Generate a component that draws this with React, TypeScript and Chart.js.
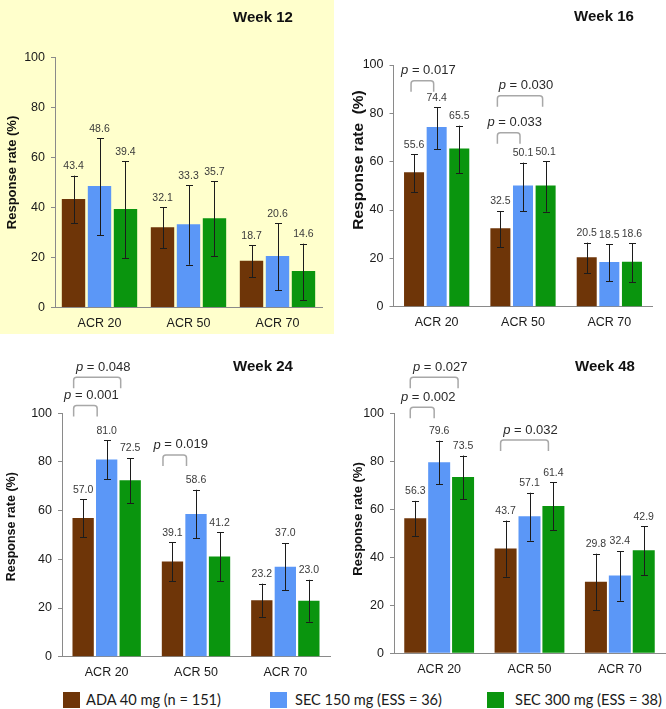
import React, { useEffect, useRef } from 'react';
import { Chart, registerables } from 'chart.js';

Chart.register(...registerables);

// ---------- data ----------
const categories = ['ACR 20', 'ACR 50', 'ACR 70'];
const seriesLabels = ['ADA 40 mg (n = 151)', 'SEC 150 mg (ESS = 36)', 'SEC 300 mg (ESS = 38)'];
const yTicks = [0, 20, 40, 60, 80, 100];
const weekTitles = ['Week 12', 'Week 16', 'Week 24', 'Week 48'];

// Week 12
const w12Ada = [43.4, 32.1, 18.7];
const w12AdaLow = [33.6, 23.7, 12.0];
const w12AdaHigh = [52.7, 40.1, 24.9];
const w12Sec150 = [48.6, 33.3, 20.6];
const w12Sec150Low = [28.9, 17.1, 6.8];
const w12Sec150High = [67.7, 48.9, 33.6];
const w12Sec300 = [39.4, 35.7, 14.6];
const w12Sec300Low = [19.7, 20.5, 2.9];
const w12Sec300High = [58.4, 50.5, 25.5];

// Week 16
const w16Ada = [55.6, 32.5, 20.5];
const w16AdaLow = [47.3, 24.6, 13.8];
const w16AdaHigh = [63.0, 39.6, 26.5];
const w16Sec150 = [74.4, 50.1, 18.5];
const w16Sec150Low = [65.2, 39.6, 10.6];
const w16Sec150High = [82.5, 59.6, 25.8];
const w16Sec300 = [65.5, 50.1, 18.6];
const w16Sec300Low = [55.2, 39.3, 10.2];
const w16Sec300High = [74.9, 60.1, 26.2];

// Week 24
const w24Ada = [57.0, 39.1, 23.2];
const w24AdaLow = [49.0, 31.1, 16.4];
const w24AdaHigh = [64.7, 47.0, 30.0];
const w24Sec150 = [81.0, 58.6, 37.0];
const w24Sec150Low = [73.0, 48.6, 27.3];
const w24Sec150High = [88.9, 68.6, 46.7];
const w24Sec300 = [72.5, 41.2, 23.0];
const w24Sec300Low = [63.0, 31.1, 14.4];
const w24Sec300High = [81.6, 51.1, 31.6];

// Week 48
const w48Ada = [56.3, 43.7, 29.8];
const w48AdaLow = [48.9, 31.9, 17.9];
const w48AdaHigh = [63.5, 55.3, 41.5];
const w48Sec150 = [79.6, 57.1, 32.4];
const w48Sec150Low = [70.4, 46.9, 21.9];
const w48Sec150High = [88.6, 66.9, 42.6];
const w48Sec300 = [73.5, 61.4, 42.9];
const w48Sec300Low = [64.3, 51.3, 32.5];
const w48Sec300High = [82.4, 71.3, 52.9];

// p-value comparisons: category index, from series, to series, bracket level (in % units), p
const w12Brackets: any[] = [];
const w16Brackets = [
  { cat: 0, from: 0, to: 1, level: 93.5, p: '0.017' },
  { cat: 1, from: 0, to: 2, level: 87.3, p: '0.030' },
  { cat: 1, from: 0, to: 1, level: 72.0, p: '0.033' },
];
const w24Brackets = [
  { cat: 0, from: 0, to: 2, level: 114.8, p: '0.048' },
  { cat: 0, from: 0, to: 1, level: 103.2, p: '0.001' },
  { cat: 1, from: 0, to: 1, level: 82.9, p: '0.019' },
];
const w48Brackets = [
  { cat: 0, from: 0, to: 2, level: 115.0, p: '0.027' },
  { cat: 0, from: 0, to: 1, level: 102.5, p: '0.002' },
  { cat: 1, from: 0, to: 2, level: 88.9, p: '0.032' },
];

// ---------- styles ----------
const seriesColors = ['#6E3508', '#5B97F7', '#0A950E'];
const FONT = '"Liberation Sans", Arial, sans-serif';
const AXIS_COLOR = '#8a8a8a';

const panels = [
  {
    key: 'w12', title: weekTitles[0],
    series: [[w12Ada, w12AdaLow, w12AdaHigh], [w12Sec150, w12Sec150Low, w12Sec150High], [w12Sec300, w12Sec300Low, w12Sec300High]],
    brackets: w12Brackets,
    left: 0, top: 0, w: 334, h: 334, bg: '#FFFFCC',
    yW: 55, padR: 12, padT: 57.3, xH: 26.5,
    titleX: 263, titleY: 17.5,
    yTitle: 'Response rate (%)', yTitleX: 12.7, yTitleY: 172.5, yTitleSize: 13,
    catPct: 0.876, barPct: 0.9, dx: 0,
  },
  {
    key: 'w16', title: weekTitles[1],
    series: [[w16Ada, w16AdaLow, w16AdaHigh], [w16Sec150, w16Sec150Low, w16Sec150High], [w16Sec300, w16Sec300Low, w16Sec300High]],
    brackets: w16Brackets,
    left: 334, top: 0, w: 332, h: 334, bg: '#FFFFFF',
    yW: 59.5, padR: 13.5, padT: 65, xH: 27.3,
    titleX: 270, titleY: 17,
    yTitle: 'Response rate  (%)', yTitleX: 24.5, yTitleY: 160, yTitleSize: 15.5,
    catPct: 0.786, barPct: 0.885, dx: -3,
  },
  {
    key: 'w24', title: weekTitles[2],
    series: [[w24Ada, w24AdaLow, w24AdaHigh], [w24Sec150, w24Sec150Low, w24Sec150High], [w24Sec300, w24Sec300Low, w24Sec300High]],
    brackets: w24Brackets,
    left: 0, top: 334, w: 334, h: 350, bg: '#FFFFFF',
    yW: 62, padR: 4, padT: 79.3, xH: 27.3,
    titleX: 263, titleY: 33,
    yTitle: 'Response rate (%)', yTitleX: 12, yTitleY: 192.7, yTitleSize: 12.5,
    catPct: 0.79, barPct: 0.906, dx: -9.5,
  },
  {
    key: 'w48', title: weekTitles[3],
    series: [[w48Ada, w48AdaLow, w48AdaHigh], [w48Sec150, w48Sec150Low, w48Sec150High], [w48Sec300, w48Sec300Low, w48Sec300High]],
    brackets: w48Brackets,
    left: 334, top: 334, w: 332, h: 350, bg: '#FFFFFF',
    yW: 60, padR: 1, padT: 79.3, xH: 30.7,
    titleX: 271, titleY: 33,
    yTitle: 'Response rate (%)', yTitleX: 24, yTitleY: 185, yTitleSize: 13,
    catPct: 0.794, barPct: 0.92, dx: -5,
  },
];

const legendBoxX = [63, 270, 487];
const legendTextX = [86, 295, 515];

function makeOverlay(p: any) {
  return {
    id: 'overlay_' + p.key,
    afterDatasetsDraw(chart: any) {
      const ctx = chart.ctx as CanvasRenderingContext2D;
      const ys = chart.scales.y;
      ctx.save();
      // error bars + value labels
      p.series.forEach((s: number[][], i: number) => {
        const meta = chart.getDatasetMeta(i);
        s[0].forEach((v: number, j: number) => {
          const x = meta.data[j].x;
          const yl = ys.getPixelForValue(s[1][j]);
          const yh = ys.getPixelForValue(s[2][j]);
          const xl = Math.round(x) + 0.5;
          ctx.strokeStyle = '#1c1c1c';
          ctx.lineWidth = 1;
          ctx.beginPath();
          ctx.moveTo(xl, yl);
          ctx.lineTo(xl, yh);
          ctx.moveTo(xl - 3.5, Math.round(yh) + 0.5);
          ctx.lineTo(xl + 3.5, Math.round(yh) + 0.5);
          ctx.moveTo(xl - 3.5, Math.round(yl) + 0.5);
          ctx.lineTo(xl + 3.5, Math.round(yl) + 0.5);
          ctx.stroke();
          ctx.fillStyle = '#3a3a3a';
          ctx.font = '10.5px ' + FONT;
          ctx.textAlign = 'center';
          ctx.textBaseline = 'middle';
          ctx.fillText(v.toFixed(1), x, yh - 9.5);
        });
      });
      // p-value brackets
      p.brackets.forEach((b: any) => {
        const x1 = chart.getDatasetMeta(b.from).data[b.cat].x + p.dx;
        const x2 = chart.getDatasetMeta(b.to).data[b.cat].x + p.dx;
        const y = ys.getPixelForValue(b.level);
        const leg = 11;
        ctx.strokeStyle = '#a8a8a8';
        ctx.lineWidth = 1.5;
        ctx.beginPath();
        ctx.moveTo(x1, y + leg);
        ctx.arcTo(x1, y, x2, y, 3);
        ctx.arcTo(x2, y, x2, y + leg, 3);
        ctx.lineTo(x2, y + leg);
        ctx.stroke();
        const italic = 'italic 13px ' + FONT;
        const normal = '13px ' + FONT;
        const rest = ' = ' + b.p;
        ctx.font = italic;
        const wp = ctx.measureText('p').width;
        ctx.font = normal;
        const wr = ctx.measureText(rest).width;
        const cx = (x1 + x2) / 2 + 6;
        const lx = cx - (wp + wr) / 2;
        const ty = y - 10;
        ctx.fillStyle = '#2a2a2a';
        ctx.textAlign = 'left';
        ctx.textBaseline = 'middle';
        ctx.font = italic;
        ctx.fillText('p', lx, ty);
        ctx.font = normal;
        ctx.fillText(rest, lx + wp, ty);
      });
      // panel title
      ctx.fillStyle = '#111111';
      ctx.font = 'bold 15px ' + FONT;
      ctx.textAlign = 'center';
      ctx.textBaseline = 'middle';
      ctx.fillText(p.title, p.titleX, p.titleY);
      // y-axis title
      ctx.save();
      ctx.translate(p.yTitleX, p.yTitleY);
      ctx.rotate(-Math.PI / 2);
      ctx.font = 'bold ' + p.yTitleSize + 'px ' + FONT;
      ctx.fillText(p.yTitle, 0, 0);
      ctx.restore();
      ctx.restore();
    },
  };
}

function Panel({ p }: { p: any }) {
  const ref = useRef<HTMLCanvasElement>(null);
  useEffect(() => {
    const canvas = ref.current;
    if (!canvas) return;
    const chart = new Chart(canvas, {
      type: 'bar',
      data: {
        labels: categories,
        datasets: p.series.map((s: number[][], i: number) => ({
          label: seriesLabels[i],
          data: s[0],
          backgroundColor: seriesColors[i],
          borderWidth: 0,
          categoryPercentage: p.catPct,
          barPercentage: p.barPct,
        })),
      },
      options: {
        responsive: false,
        animation: false,
        events: [],
        layout: { padding: { left: 0, right: p.padR, top: p.padT, bottom: 0 } },
        plugins: {
          legend: { display: false },
          tooltip: { enabled: false },
          title: { display: false },
        },
        scales: {
          x: {
            grid: { display: false, drawTicks: false },
            border: { display: true, color: AXIS_COLOR, width: 1 },
            ticks: {
              color: '#1a1a1a',
              font: { family: FONT, size: 12.5 },
              padding: 8.3,
              maxRotation: 0,
              autoSkip: false,
            },
            afterFit: (s: any) => { s.height = p.xH; },
          },
          y: {
            min: 0,
            max: 100,
            afterBuildTicks: (s: any) => { s.ticks = yTicks.map((v) => ({ value: v })); },
            ticks: {
              color: '#1a1a1a',
              font: { family: FONT, size: 12.5 },
              padding: 6,
            },
            grid: { drawOnChartArea: false, drawTicks: true, tickLength: 4, color: AXIS_COLOR },
            border: { display: true, color: AXIS_COLOR, width: 1 },
            afterFit: (s: any) => { s.width = p.yW; },
          },
        },
      } as any,
      plugins: [makeOverlay(p)],
    });
    return () => chart.destroy();
  }, []);
  return (
    <canvas
      ref={ref}
      width={p.w}
      height={p.h}
      style={{ position: 'absolute', left: p.left, top: p.top, width: p.w, height: p.h, background: p.bg }}
    />
  );
}

export default function App() {
  return (
    <div style={{ position: 'absolute', left: 0, top: 0, width: 666, height: 709, background: '#ffffff', overflow: 'hidden' }}>
      {panels.map((p) => (
        <Panel key={p.key} p={p} />
      ))}
      {seriesLabels.map((lab, i) => (
        <React.Fragment key={lab}>
          <div style={{ position: 'absolute', left: legendBoxX[i], top: 692, width: 17, height: 16, background: seriesColors[i] }} />
          <div
            style={{
              position: 'absolute', left: legendTextX[i], top: 691, height: 18, lineHeight: '18px',
              font: '14.6px Lato, sans-serif', color: '#1a1a1a', whiteSpace: 'nowrap',
            }}
          >
            {lab}
          </div>
        </React.Fragment>
      ))}
    </div>
  );
}
